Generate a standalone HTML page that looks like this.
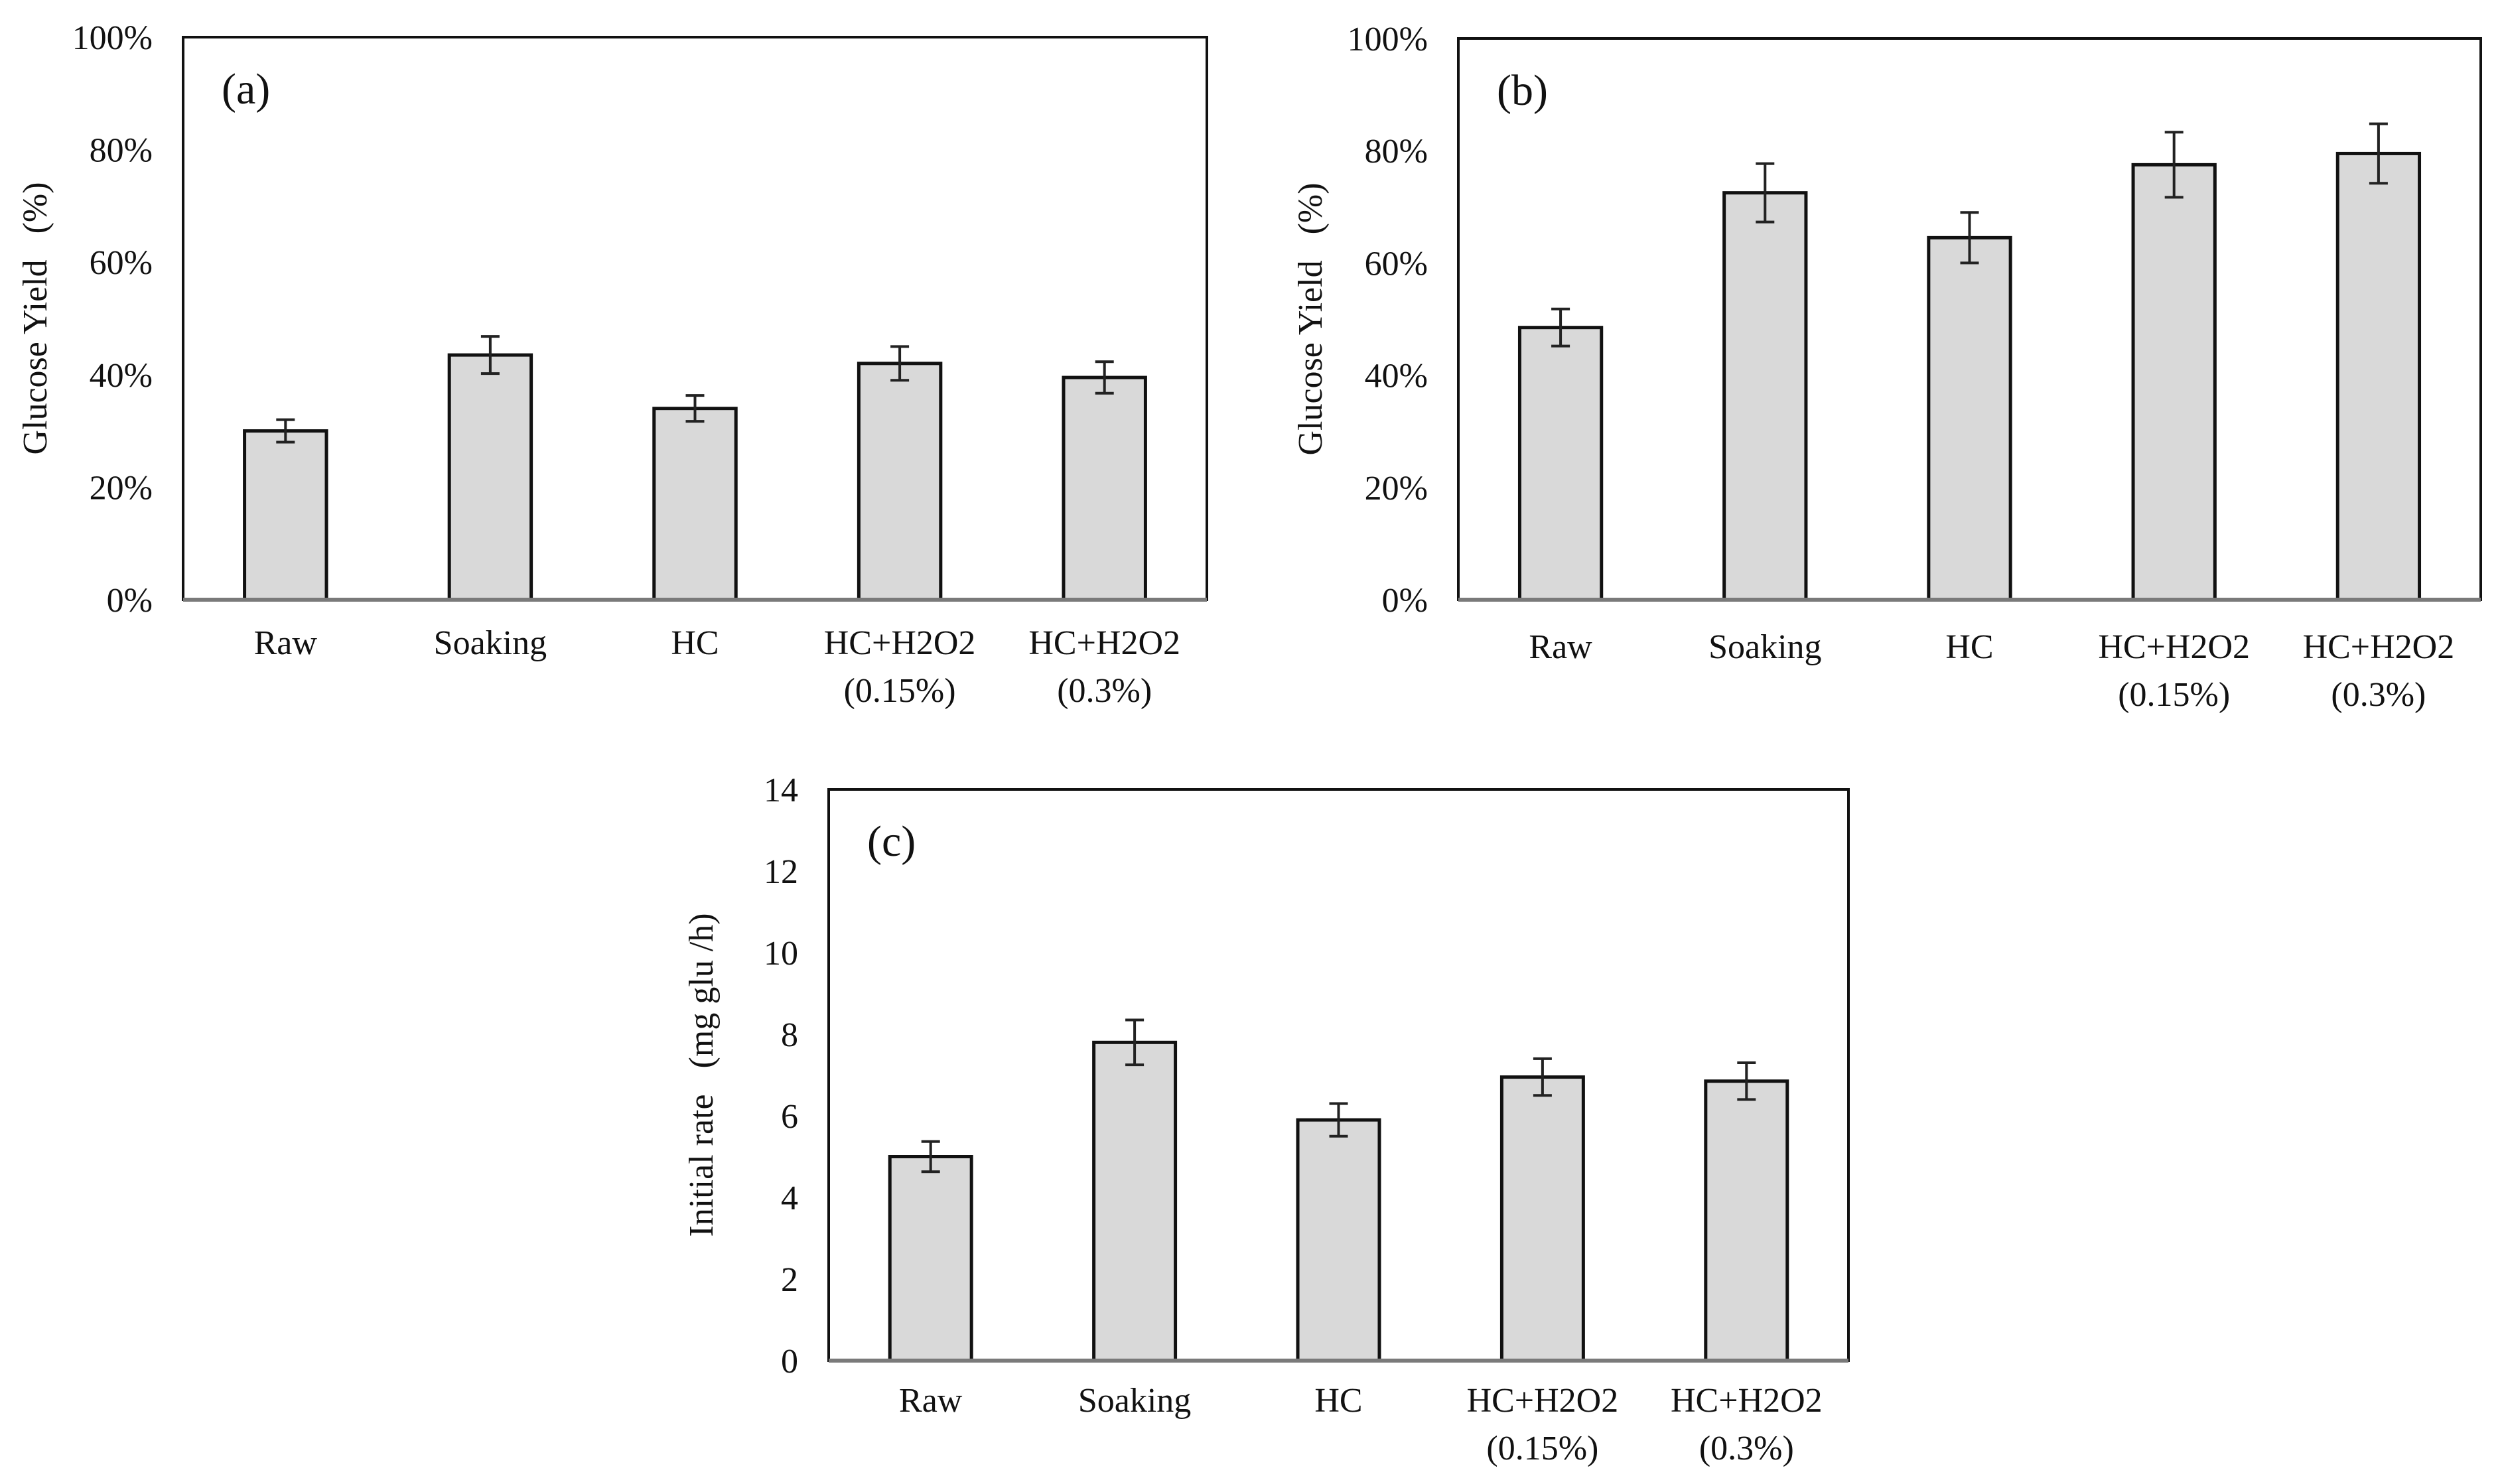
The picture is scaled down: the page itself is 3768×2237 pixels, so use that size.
<!DOCTYPE html>
<html><head><meta charset="utf-8"><style>
html,body{margin:0;padding:0;background:#fff;}
svg{display:block;font-family:"Liberation Serif",serif;}
</style></head><body>
<svg id="fig" width="3768" height="2237" viewBox="0 0 3768 2237" xmlns="http://www.w3.org/2000/svg"></svg>
<script>
const categories = ["Raw","Soaking","HC","HC+H2O2|(0.15%)","HC+H2O2|(0.3%)"];
const valuesA = [30, 43.5, 34, 42, 39.5];
const errorsA = [2, 3.3, 2.3, 3, 2.8];
const valuesB = [48.5, 72.5, 64.5, 77.5, 79.5];
const errorsB = [3.3, 5.2, 4.5, 5.8, 5.3];
const valuesC = [5.0, 7.8, 5.9, 6.95, 6.85];
const errorsC = [0.37, 0.55, 0.4, 0.45, 0.45];
const ticksPct = [0, 20, 40, 60, 80, 100];
const tickLabelsPct = ["0%","20%","40%","60%","80%","100%"];
const ticksRate = [0, 2, 4, 6, 8, 10, 12, 14];
const tickLabelsRate = ["0","2","4","6","8","10","12","14"];

const NS = "http://www.w3.org/2000/svg";
const svg = document.getElementById("fig");
function mk(tag, attrs, parent, text){
  const e = document.createElementNS(NS, tag);
  for (const k in attrs) e.setAttribute(k, attrs[k]);
  if (text !== undefined) e.textContent = text;
  (parent || svg).appendChild(e);
  return e;
}
function panel(id, box, ymax, ticks, tickLabels, vals, errs, letter, title, titleX, lab1Y, lab2Y){
  const g = mk("g", {});
  
  
  const L = box[0], R = box[1], T = box[2], B = box[3];
  const y = v => B - (v / ymax) * (B - T);
  const cw = (R - L) / categories.length;
  const x = i => L + cw * (i + 0.5);
  const fr = mk("rect", {x:L, y:T, width:R-L, height:B-T, fill:"none", stroke:"#111", "stroke-width":4}, g);
  
  
  ticks.forEach((t, i) => {
    const tl = mk("text", {x:L-46, y:y(t)+18, "text-anchor":"end", "font-size":52, fill:"#111"}, g, tickLabels[i]);
    
    
  });
  vals.forEach((v, i) => {
    const bw = cw * 0.4;
    const r = mk("rect", {x:x(i)-bw/2, y:y(v), width:bw, height:B-y(v), fill:"#d9d9d9", stroke:"#111", "stroke-width":5}, g);
    
    
    const e1 = y(v + errs[i]), e2 = y(v - errs[i]);
    const eb = mk("path", {d:`M${x(i)} ${e1}V${e2}M${x(i)-14} ${e1}H${x(i)+14}M${x(i)-14} ${e2}H${x(i)+14}`, stroke:"#222", "stroke-width":4, fill:"none"}, g);
    
    
    const parts = categories[i].split("|");
    const t1 = mk("text", {x:x(i), y:lab1Y, "text-anchor":"middle", "font-size":52, fill:"#111"}, g, parts[0]);
    
    
    if (parts[1]) {
      const t2 = mk("text", {x:x(i), y:lab2Y, "text-anchor":"middle", "font-size":52, fill:"#111"}, g, parts[1]);
      
      
    }
  });
  const bl = mk("line", {x1:L, x2:R, y1:B, y2:B, stroke:"#7a7a7a", "stroke-width":6}, g);
  
  
  const lt = mk("text", {x:L+58, y:T+100, "font-size":66, fill:"#111"}, g, letter);
  
  
  const cy = (T + B) / 2;
  const tt = mk("text", {x:titleX, y:cy, "text-anchor":"middle", "font-size":52, fill:"#111", transform:`rotate(-90 ${titleX} ${cy})`}, g, title);
  
  
}
panel("a", [276,1819,56,904], 100, ticksPct, tickLabelsPct, valuesA, errorsA, "(a)", "Glucose Yield\u00A0\u00A0\u00A0(%)", 70, 986, 1058);
panel("b", [2198,3739,58,904], 100, ticksPct, tickLabelsPct, valuesB, errorsB, "(b)", "Glucose Yield\u00A0\u00A0\u00A0(%)", 1992, 992, 1064);
panel("c", [1249,2786,1190,2051], 14, ticksRate, tickLabelsRate, valuesC, errorsC, "(c)", "Initial rate\u00A0\u00A0\u00A0(mg glu /h)", 1074, 2128, 2200);
</script>
</body></html>
